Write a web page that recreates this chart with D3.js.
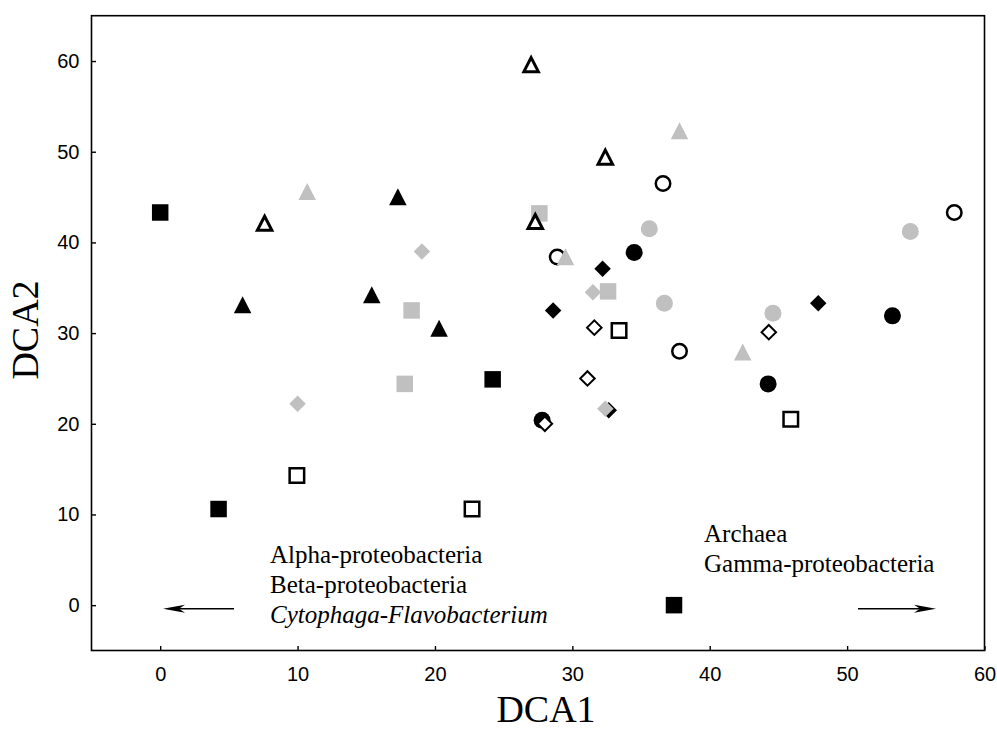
<!DOCTYPE html>
<html>
<head>
<meta charset="utf-8">
<script src="https://cdn.jsdelivr.net/npm/d3@7"></script>
<style>
  html, body { margin: 0; padding: 0; background: #fff; }
  svg { display: block; }
</style>
</head>
<body>
<svg id="chart" width="997" height="729"></svg>
<script>
// DCA ordination scores (axis 1, axis 2) per sample group
const blackSquares   = [[0.0, 43.3], [24.2, 24.9], [4.25, 10.6], [37.4, 0.0]];
const openSquares    = [[33.4, 30.3], [45.9, 20.5], [9.95, 14.3], [22.7, 10.6]];
const graySquares    = [[27.6, 43.2], [18.3, 32.5], [32.6, 34.6], [17.8, 24.4]];
const blackCircles   = [[34.5, 38.9], [53.3, 31.9], [44.25, 24.4], [27.8, 20.4]];
const openCircles    = [[36.6, 46.5], [57.8, 43.3], [28.9, 38.4], [37.8, 28.0]];
const grayCircles    = [[35.6, 41.5], [54.6, 41.2], [36.7, 33.3], [44.6, 32.2]];
const blackDiamonds  = [[32.2, 37.1], [28.6, 32.5], [47.9, 33.3], [32.65, 21.5]];
const openDiamonds   = [[31.6, 30.6], [44.3, 30.1], [31.1, 25.0], [28.0, 20.0]];
const grayDiamonds   = [[19.05, 39.0], [31.5, 34.5], [10.0, 22.2], [32.4, 21.65]];
const blackTriangles = [[17.3, 44.9], [6.0, 33.0], [15.4, 34.1], [20.3, 30.4]];
const openTriangles  = [[27.0, 59.5], [32.4, 49.3], [7.6, 42.0], [27.3, 42.2]];
const grayTriangles  = [[37.8, 52.2], [10.7, 45.5], [29.5, 38.3], [42.4, 27.8]];

const xTicks = [0, 10, 20, 30, 40, 50, 60];
const yTicks = [0, 10, 20, 30, 40, 50, 60];
const xTitle = "DCA1";
const yTitle = "DCA2";
const leftGroups  = ["Alpha-proteobacteria", "Beta-proteobacteria", "Cytophaga-Flavobacterium"];
const rightGroups = ["Archaea", "Gamma-proteobacteria"];

const GRAY = "#c0c0c0";

const svg = d3.select("#chart");
const plot = { left: 91.5, right: 984.5, top: 15.7, bottom: 650.5 };

const x = d3.scaleLinear().domain([-5, 60]).range([plot.left, plot.right]);
const y = d3.scaleLinear().domain([-5, 65]).range([plot.bottom, plot.top]);

// marker outlines, centred on the origin
const shapes = {
  square: s => `M${-s/2},${-s/2}H${s/2}V${s/2}H${-s/2}Z`,
  circle: s => `M${s/2},0A${s/2},${s/2} 0 1,1 ${-s/2},0A${s/2},${s/2} 0 1,1 ${s/2},0Z`,
  diamond: s => `M0,${-s/2}L${s/2},0L0,${s/2}L${-s/2},0Z`,
  triangle: s => `M0,${-s*0.55}L${s/2},${s*0.42}L${-s/2},${s*0.42}Z`
};

// drawing order: squares, circles, diamonds, triangles; black, open, grey
const groups = [
  { data: blackSquares,   shape: "square",   style: "black" },
  { data: openSquares,    shape: "square",   style: "open" },
  { data: graySquares,    shape: "square",   style: "gray" },
  { data: blackCircles,   shape: "circle",   style: "black" },
  { data: openCircles,    shape: "circle",   style: "open" },
  { data: grayCircles,    shape: "circle",   style: "gray" },
  { data: blackDiamonds,  shape: "diamond",  style: "black" },
  { data: openDiamonds,   shape: "diamond",  style: "open" },
  { data: grayDiamonds,   shape: "diamond",  style: "gray" },
  { data: blackTriangles, shape: "triangle", style: "black" },
  { data: openTriangles,  shape: "triangle", style: "open" },
  { data: grayTriangles,  shape: "triangle", style: "gray" }
];

const size = { square: 16.5, circle: 17, diamond: 16.5, triangle: 17.5 };
const openSize = { square: 14.5, circle: 14.5, diamond: 14.5, triangle: 14.5 };
const openStroke = { square: 2.5, circle: 2.5, diamond: 2, triangle: 3 };

// frame
svg.append("rect")
  .attr("x", plot.left).attr("y", plot.top)
  .attr("width", plot.right - plot.left).attr("height", plot.bottom - plot.top)
  .attr("fill", "none").attr("stroke", "#000").attr("stroke-width", 1.6);

// axes with inward ticks
const xAxis = svg.append("g")
  .attr("transform", `translate(0,${plot.bottom})`)
  .call(d3.axisBottom(x).tickValues(xTicks).tickSizeInner(-4.5).tickSizeOuter(0).tickPadding(16));
const yAxis = svg.append("g")
  .attr("transform", `translate(${plot.left},0)`)
  .call(d3.axisLeft(y).tickValues(yTicks).tickSizeInner(-4.5).tickSizeOuter(0).tickPadding(12));

[xAxis, yAxis].forEach(g => {
  g.select(".domain").remove();
  g.selectAll(".tick line").attr("stroke", "#000").attr("stroke-width", 1.4);
  g.selectAll(".tick text")
    .attr("fill", "#000")
    .style("font-family", "Arial, 'Liberation Sans', sans-serif")
    .style("font-size", "20px");
});

// axis titles
const serif = "'Times New Roman', 'Liberation Serif', serif";
svg.append("text")
  .attr("x", 546).attr("y", 722)
  .attr("text-anchor", "middle")
  .style("font-family", serif)
  .style("font-size", "38px")
  .text(xTitle);

svg.append("text")
  .attr("transform", `translate(38,330) rotate(-90)`)
  .attr("text-anchor", "middle")
  .style("font-family", serif)
  .style("font-size", "38px")
  .text(yTitle);

// points
groups.forEach(g => {
  svg.append("g").selectAll("path")
    .data(g.data)
    .join("path")
    .attr("transform", d => `translate(${x(d[0])},${y(d[1])})`)
    .attr("d", g.style === "open" ? shapes[g.shape](openSize[g.shape]) : shapes[g.shape](size[g.shape]))
    .attr("fill", g.style === "black" ? "#000" : g.style === "gray" ? GRAY : "#fff")
    .attr("stroke", g.style === "open" ? "#000" : "none")
    .attr("stroke-width", g.style === "open" ? openStroke[g.shape] : 0)
    .attr("stroke-linejoin", "miter");
});

// group annotations
const leftText = svg.append("text")
  .style("font-family", serif).style("font-size", "25px");
leftGroups.forEach((t, i) => {
  leftText.append("tspan")
    .attr("x", 270).attr("y", 563 + i * 30)
    .style("font-style", i === 2 ? "italic" : "normal")
    .text(t);
});
const rightText = svg.append("text")
  .style("font-family", serif).style("font-size", "25px");
rightGroups.forEach((t, i) => {
  rightText.append("tspan")
    .attr("x", 704).attr("y", 542 + i * 30)
    .text(t);
});

// direction arrows
function arrow(x1, x2, yy) {
  const dir = Math.sign(x2 - x1);
  svg.append("line")
    .attr("x1", x1).attr("y1", yy).attr("x2", x2 - dir * 6).attr("y2", yy)
    .attr("stroke", "#000").attr("stroke-width", 1.5);
  svg.append("path")
    .attr("d", `M${x2},${yy}L${x2 - dir * 22},${yy - 4}L${x2 - dir * 16},${yy}L${x2 - dir * 22},${yy + 4}Z`)
    .attr("fill", "#000");
}
arrow(234, 163, 608.7);
arrow(858, 936, 608.7);
</script>
</body>
</html>
